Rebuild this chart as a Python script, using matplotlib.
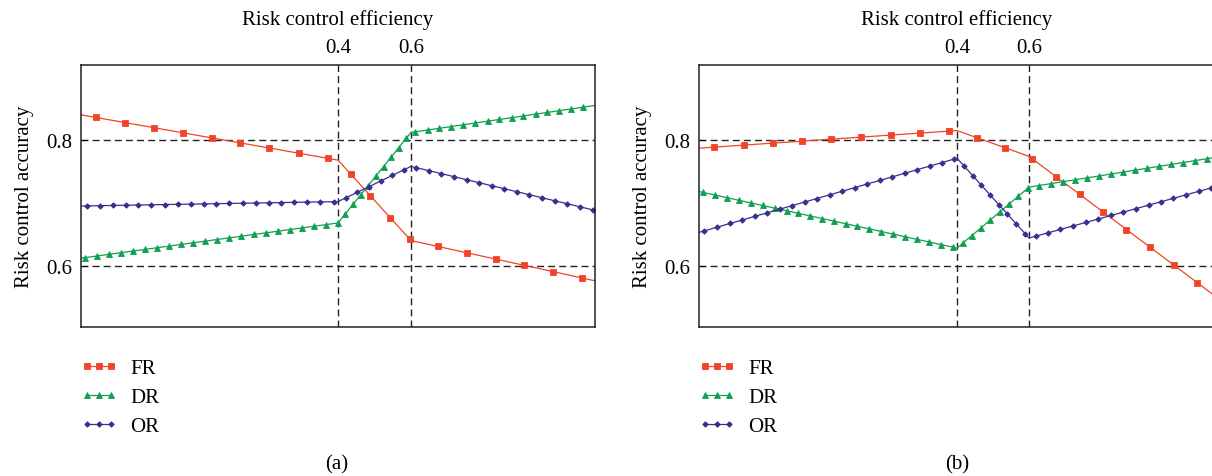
import matplotlib
matplotlib.use('Agg')
import matplotlib.pyplot as plt
import matplotlib.path as mpath
import numpy as np

plt.rcParams['font.family'] = ['Liberation Serif', 'DejaVu Serif']

# breakpoints on the risk control efficiency axis
x_a = [-0.304, 0.4, 0.6, 1.104]
x_b = [-0.317, 0.4, 0.6, 1.114]

# panel (a)
fr_a = [0.840, 0.768, 0.640, 0.576]
dr_a = [0.612, 0.668, 0.812, 0.855]
or_a = [0.695, 0.702, 0.758, 0.688]

# panel (b)
fr_b = [0.787, 0.815, 0.774, 0.553]
dr_b = [0.718, 0.628, 0.725, 0.772]
or_b = [0.653, 0.771, 0.644, 0.725]

labels = ['FR', 'DR', 'OR']
xticks = [0.4, 0.6]
yticks = [0.6, 0.8]

colors = ['#f04428', '#10a050', '#3a2f90']
markers = ['s', '^', 'D']
msizes = [4.5, 4.2, 2.8]
every = [(0.026, 0.051), (0.008, 0.021), (0.010, 0.0225)]

W, H = 1212, 477
fig = plt.figure(figsize=(W / 100, H / 100), dpi=100)


def panel(left, right, x, series):
    ax = fig.add_axes([left / W, 1 - 328 / H, (right - left) / W, 262 / H])
    ax.set_xlim(x[0], x[-1])
    ax.set_ylim(0.5025, 0.9193)
    for y, lab, c, m, ms, ev in zip(series, labels, colors, markers, msizes, every):
        # the polyline itself
        ax.plot(x, y, color=c, lw=0.9)
        # markers spread evenly along the same polyline (like the original)
        fine = mpath.Path(np.column_stack([x, y])).interpolated(300).vertices
        ax.plot(fine[:, 0], fine[:, 1], color=c, lw=0, marker=m, markersize=ms,
                markeredgewidth=0.6, markevery=ev)
        ax.plot([], [], color=c, lw=0.9, marker=m, markersize=ms,
                markeredgewidth=0.6, label=lab)
    ax.xaxis.tick_top()
    ax.xaxis.set_label_position('top')
    ax.set_xticks(xticks)
    ax.set_xticklabels([str(v) for v in xticks])
    ax.set_yticks(yticks)
    ax.set_yticklabels([str(v) for v in yticks])
    ax.tick_params(axis='x', length=0, pad=6, labelsize=15)
    ax.tick_params(axis='y', direction='in', length=4, pad=6, labelsize=15)
    ax.grid(True, color='#222222', linestyle=(0, (5, 3)), lw=1.0)
    ax.set_axisbelow(True)
    for s in ax.spines.values():
        s.set_color('#222222')
        s.set_linewidth(1.1)
    ax.set_xlabel('Risk control efficiency', fontsize=15, labelpad=10)
    ax.set_ylabel('Risk control accuracy', fontsize=15, labelpad=9)
    ax.legend(loc='upper left', bbox_to_anchor=(0, -0.12), frameon=False,
              fontsize=15, numpoints=3, handlelength=1.75, handletextpad=0.6,
              labelspacing=0.45, borderaxespad=0, borderpad=0)
    return ax


panel(81, 595, x_a, [fr_a, dr_a, or_a])
fig.text(337 / W, 1 - 465 / H, '(a)', fontsize=15, ha='center', va='center')
panel(699, 1214, x_b, [fr_b, dr_b, or_b])
fig.text(957 / W, 1 - 465 / H, '(b)', fontsize=15, ha='center', va='center')

fig.savefig('out.png', dpi=100)
